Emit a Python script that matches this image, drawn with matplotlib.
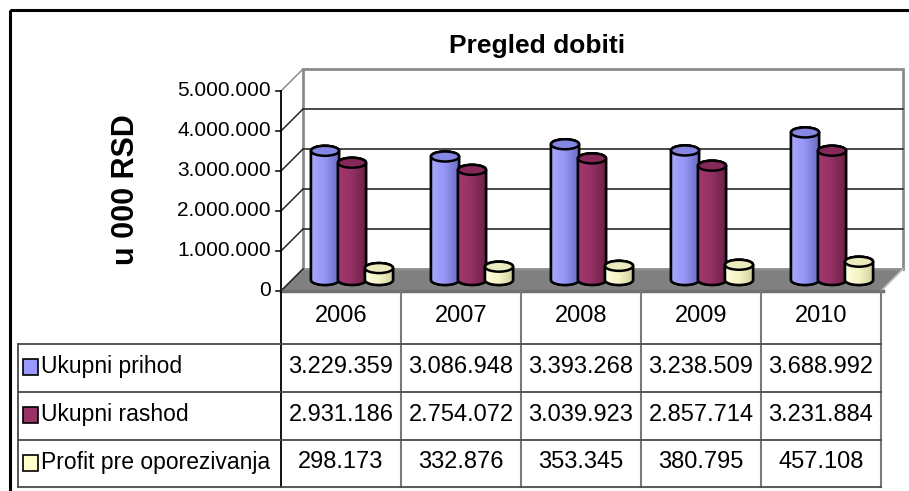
import numpy as np
import matplotlib
matplotlib.use("Agg")
import matplotlib.pyplot as plt
from matplotlib.patches import Ellipse, Polygon, PathPatch, Rectangle
from matplotlib.path import Path
from matplotlib.colors import LinearSegmentedColormap

# ---- data ----
years = ["2006", "2007", "2008", "2009", "2010"]
series_names = ["Ukupni prihod", "Ukupni rashod", "Profit pre oporezivanja"]
prihod = [3229359, 3086948, 3393268, 3238509, 3688992]
rashod = [2931186, 2754072, 3039923, 2857714, 3231884]
profit = [298173, 332876, 353345, 380795, 457108]
y_ticks = [0, 1000000, 2000000, 3000000, 4000000, 5000000]

base_colors = ["#9999ff", "#993366", "#ffffcc"]
shade_colors = [("#a9a9ff", "#9595f5", "#6c6cc2"),
                ("#a5386f", "#933163", "#6b2147"),
                ("#ffffde", "#f4f4c6", "#d2d2a0")]
top_colors = ["#8686e4", "#86295a", "#ebebbd"]

FONT = "Liberation Sans"


def fmt(v):
    return f"{v:,}".replace(",", ".")


W, H = 909, 491
fig = plt.figure(figsize=(W / 100, H / 100), dpi=100, facecolor="white")

# chart axes: x = category index, y = value (RSD thousands)
ax = fig.add_axes([0, 0, 1, 1])
ax.set_autoscale_on(False)
PX_X, PX_Y = 120.0, 40e-6          # pixels per category / per unit value
X0, Y0 = 341.0, 291.0              # pixel of category 0 centre / value 0 (front plane)
XLIM = (-X0 / PX_X, (W - X0) / PX_X)
YLIM = ((Y0 - H) / PX_Y, Y0 / PX_Y)
ax.set_xlim(*XLIM)
ax.set_ylim(*YLIM)
ax.axis("off")

DX, DY = 22 / PX_X, 22 / PX_Y      # depth offset of the back wall
n = len(years)
left, right = -0.5, n - 0.5
top = y_ticks[-1]

# floor
ax.add_patch(Polygon([(left, 0), (right, 0), (right + DX, DY), (left + DX, DY)],
                     closed=True, facecolor="#808080", edgecolor="#808080", lw=1, zorder=1))
# back wall
ax.add_patch(Rectangle((left + DX, DY), right - left, top, facecolor="white",
                       edgecolor="#8c8c8c", lw=2, zorder=1))
for v in y_ticks[1:-1]:
    ax.plot([left + DX, right + DX], [v + DY, v + DY], color="#3a3a3a", lw=1.3, zorder=2)
# side wall diagonals + ticks
for v in y_ticks:
    ax.plot([left, left + DX], [v, v + DY], color="#222222" if v < top else "#8c8c8c",
            lw=1.1, zorder=2)
    ax.plot([left - 5 / PX_X, left], [v, v], color="black", lw=1.1, zorder=3)
    ax.text(left - 10 / PX_X, v, fmt(v), ha="right", va="center", family=FONT,
            fontsize=15, color="black", zorder=3)
ax.plot([left, left], [0, top], color="black", lw=1.3, zorder=3)
ax.plot([right, right + DX], [0, DY], color="#d0d0d0", lw=1, zorder=2)

# cylinders
cw = 28 / PX_X
step = 27 / PX_X
eh = 10 / PX_Y
values = [prihod, rashod, profit]
z = 5
for i in range(n):
    for s, vals in enumerate(values):
        cx = i + DX / 2 + (s - 1) * step
        yb = DY / 2
        yt = yb + vals[i]
        th = np.linspace(np.pi, 2 * np.pi, 50)
        lower = np.column_stack([cx + cw / 2 * np.cos(th), yb + eh / 2 * np.sin(th)])
        th2 = np.linspace(0, np.pi, 50)
        upper = np.column_stack([cx + cw / 2 * np.cos(th2), yt + eh / 2 * np.sin(th2)])
        verts = np.vstack([lower, upper, lower[:1]])
        body = PathPatch(Path(verts), facecolor=base_colors[s], edgecolor="black",
                         lw=1.8, zorder=z)
        ax.add_patch(body)
        cmap = LinearSegmentedColormap.from_list("c", shade_colors[s])
        grad = np.linspace(0, 1, 64).reshape(1, -1)
        im = ax.imshow(grad, cmap=cmap, extent=(cx - cw / 2, cx + cw / 2, yb - eh / 2, yt + eh / 2),
                       aspect="auto", origin="lower", interpolation="bilinear", zorder=z + 0.1)
        im.set_clip_path(body)
        ax.add_patch(PathPatch(Path(verts), facecolor="none", edgecolor="black",
                               lw=1.8, zorder=z + 0.2))
        ax.add_patch(Ellipse((cx, yt), cw, eh, facecolor=top_colors[s], edgecolor="black",
                             lw=1.8, zorder=z + 0.3))
        z += 1
ax.set_xlim(*XLIM)
ax.set_ylim(*YLIM)

# overlay in pixel coordinates: frame, titles, data table
ov = fig.add_axes([0, 0, 1, 1])
ov.set_xlim(0, W)
ov.set_ylim(H, 0)
ov.axis("off")
ov.patch.set_alpha(0)

ov.add_patch(Rectangle((10, 10), W + 20, H + 20, facecolor="none", edgecolor="black", lw=2.2))
ov.text(537, 46, "Pregled dobiti", ha="center", va="center", family=FONT,
        fontweight="bold", fontsize=19)
ov.text(126, 190, "u 000 RSD", ha="center", va="center", rotation=90, family=FONT,
        fontweight="bold", fontsize=22)

col_edges = [X0 + PX_X * (k - 0.5) for k in range(n + 1)]
row_edges = [291, 344, 392, 440, 487]
tab_left = 18
line_c = "#4a4a4a"
ov.plot([col_edges[0], col_edges[-1] + 2], [Y0, Y0], color="#707070", lw=2.5)
for xe in col_edges[1:]:
    ov.plot([xe, xe], [row_edges[0], row_edges[-1]], color="#7a7a7a", lw=1.5)
ov.plot([col_edges[0], col_edges[0]], [row_edges[0], row_edges[-1]], color="black", lw=1.3)
for ye in row_edges[1:]:
    ov.plot([tab_left, col_edges[-1]], [ye, ye], color=line_c, lw=1.3)
ov.plot([tab_left, tab_left], [row_edges[1], row_edges[-1]], color=line_c, lw=1.3)

for k, yr in enumerate(years):
    xc = (col_edges[k] + col_edges[k + 1]) / 2
    ov.text(xc, (row_edges[0] + row_edges[1]) / 2 - 1, yr, ha="center", va="center",
            family=FONT, fontsize=17)
for r, (name, vals) in enumerate(zip(series_names, values)):
    yc = (row_edges[r + 1] + row_edges[r + 2]) / 2 - 1
    ov.add_patch(Rectangle((23, yc - 8), 15, 16, facecolor=base_colors[r],
                           edgecolor="black", lw=1.2))
    ov.text(41, yc, name, ha="left", va="center", family=FONT, fontsize=16.5)
    for k, v in enumerate(vals):
        xc = (col_edges[k] + col_edges[k + 1]) / 2
        ov.text(xc, yc, fmt(v), ha="center", va="center", family=FONT, fontsize=17)

fig.savefig("out.png", dpi=100, facecolor="white")
